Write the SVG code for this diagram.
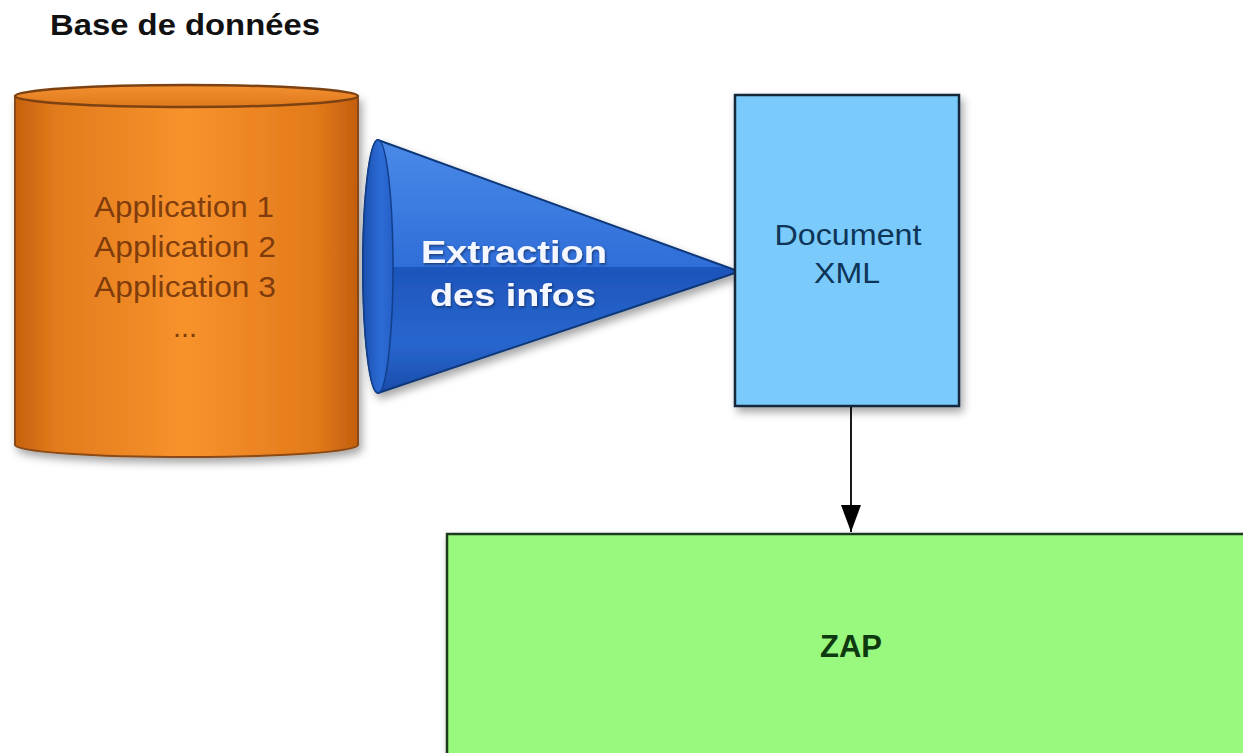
<svg xmlns="http://www.w3.org/2000/svg" width="1243" height="753" viewBox="0 0 1243 753">
<style>
.t{font-family:"Liberation Sans",Arial,sans-serif}
.b{font-weight:bold}
</style>
<defs>
<filter id="sh" x="-20%" y="-20%" width="140%" height="140%">
<feDropShadow dx="3" dy="5" stdDeviation="4" flood-color="#000" flood-opacity="0.35"/>
</filter>
<filter id="tsh" x="-10%" y="-20%" width="120%" height="140%">
<feDropShadow dx="1" dy="1.5" stdDeviation="1" flood-color="#0a2450" flood-opacity="0.7"/>
</filter>
<linearGradient id="cyl" x1="0" y1="0" x2="1" y2="0">
<stop offset="0" stop-color="#C5610E"/>
<stop offset="0.12" stop-color="#E27B1C"/>
<stop offset="0.5" stop-color="#F8922C"/>
<stop offset="0.88" stop-color="#E27A1A"/>
<stop offset="1" stop-color="#C25E0E"/>
</linearGradient>
<linearGradient id="cylTop" x1="0" y1="0" x2="0" y2="1">
<stop offset="0" stop-color="#F29030"/>
<stop offset="1" stop-color="#E07A1C"/>
</linearGradient>
<linearGradient id="cone" x1="0" y1="0" x2="0" y2="1">
<stop offset="0" stop-color="#4A8AE8"/>
<stop offset="0.5" stop-color="#2F6ED8"/>
<stop offset="0.5" stop-color="#1D55BB"/>
<stop offset="0.8" stop-color="#2866CE"/>
<stop offset="1" stop-color="#1A4CAA"/>
</linearGradient>
<linearGradient id="base" x1="0" y1="0" x2="1" y2="0">
<stop offset="0" stop-color="#1A50B0"/>
<stop offset="0.6" stop-color="#2D6CD6"/>
<stop offset="1" stop-color="#245FC6"/>
</linearGradient>
<marker id="arr" markerWidth="27" markerHeight="20" refX="27" refY="10" orient="auto" markerUnits="userSpaceOnUse" viewBox="0 0 27 20">
<path d="M0,0 L27,10 L0,20 Z" fill="#000"/>
</marker>
</defs>
<rect width="1243" height="753" fill="#FFFFFF"/>

<text class="t b" x="50" y="35" font-size="30" textLength="270" lengthAdjust="spacingAndGlyphs" fill="#111">Base de données</text>

<g id="database">
<path d="M15,96 L15,445 A171.5,12 0 0 0 358,445 L358,96 Z" fill="url(#cyl)" stroke="#8A4A14" stroke-width="2" filter="url(#sh)"/>
<ellipse cx="186.5" cy="96" rx="171.5" ry="11" fill="url(#cylTop)" stroke="#7E4212" stroke-width="2.5"/>
<g class="t" font-size="29" fill="#6B2E08" fill-opacity="0.85" text-anchor="middle">
<text x="184" y="217" textLength="180" lengthAdjust="spacingAndGlyphs">Application 1</text>
<text x="185" y="257" textLength="182" lengthAdjust="spacingAndGlyphs">Application 2</text>
<text x="185" y="297" textLength="182" lengthAdjust="spacingAndGlyphs">Application 3</text>
<text x="185" y="337" textLength="24" lengthAdjust="spacingAndGlyphs">...</text>
</g>
</g>

<g id="extraction">
<path d="M378,140 L735,270 L735,273 L378,393 A15,126.5 0 0 1 378,140 Z" fill="url(#cone)" stroke="#0E3778" stroke-width="2" stroke-linejoin="round" filter="url(#sh)"/>
<ellipse cx="378" cy="266.5" rx="15" ry="126.5" fill="url(#base)" stroke="#123F8C" stroke-width="1.5"/>
<g class="t b" font-size="32" fill="#F4F7FF" text-anchor="middle" filter="url(#tsh)">
<text x="514" y="263" textLength="186" lengthAdjust="spacingAndGlyphs">Extraction</text>
<text x="513" y="306" textLength="166" lengthAdjust="spacingAndGlyphs">des infos</text>
</g>
</g>

<g id="document">
<rect x="735" y="95" width="224" height="311" fill="#7ACBFC" stroke="#15263A" stroke-width="2.5" filter="url(#sh)"/>
<g class="t" font-size="29" fill="#0E3558" text-anchor="middle">
<text x="848" y="245" textLength="147" lengthAdjust="spacingAndGlyphs">Document</text>
<text x="847" y="283" textLength="66" lengthAdjust="spacingAndGlyphs">XML</text>
</g>
</g>

<g id="zap">
<rect x="447" y="534" width="820" height="240" fill="#99F97F" stroke="#1F3A1F" stroke-width="2.5" filter="url(#sh)"/>
<text class="t b" x="851" y="657" font-size="32" textLength="62" lengthAdjust="spacingAndGlyphs" fill="#0F3A0F" text-anchor="middle">ZAP</text>
</g>

<g id="connectors">
<line x1="851" y1="407" x2="851" y2="532" stroke="#000" stroke-width="1.8" marker-end="url(#arr)"/>
</g>
</svg>
